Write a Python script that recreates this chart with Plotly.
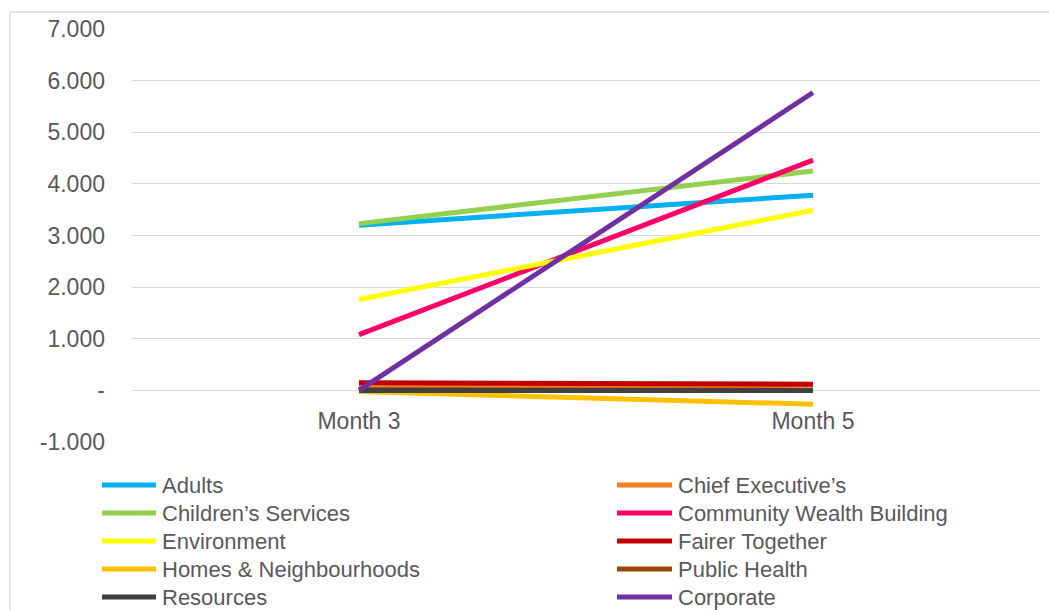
import plotly.graph_objects as go

# Forecast variance by directorate (£m), Month 3 vs Month 5
periods = ["Month 3", "Month 5"]

series_names = [
    "Adults", "Chief Executive’s",
    "Children’s Services", "Community Wealth Building",
    "Environment", "Fairer Together",
    "Homes & Neighbourhoods", "Public Health",
    "Resources", "Corporate",
]

adults = [3.20, 3.78]
chief_exec = [0.05, 0.10]
childrens = [3.23, 4.25]
community_wealth = [1.08, 4.46]
environment = [1.76, 3.49]
fairer_together = [0.15, 0.12]
homes = [-0.02, -0.27]
public_health = [0.01, 0.0]
resources = [0.0, 0.0]
corporate = [0.0, 5.77]

series_values = [
    adults, chief_exec, childrens, community_wealth, environment,
    fairer_together, homes, public_health, resources, corporate,
]

series_colors = [
    "#00B0F0", "#F47B20", "#92D050", "#FF0066", "#FFFF00",
    "#C00000", "#FFC000", "#974706", "#404040", "#7030A0",
]

y_ticks = [-1, 0, 1, 2, 3, 4, 5, 6, 7]
y_tick_labels = ["-1.000", "-", "1.000", "2.000", "3.000",
                 "4.000", "5.000", "6.000", "7.000"]

W, H = 1049, 610
# plot area in pixels
PL, PR, PT, PB = 132, 1040, 29, 442


def px_x(px):
    return (px - PL) / (PR - PL)


def px_y(py):
    return (PB - py) / (PB - PT)


TXT = "#595959"
FONT = "Liberation Sans, Arial, sans-serif"
LINE_W = 5

fig = go.Figure()
for name, vals, col in zip(series_names, series_values, series_colors):
    fig.add_trace(go.Scatter(
        x=periods, y=vals, mode="lines", name=name,
        line=dict(color=col, width=LINE_W), showlegend=False,
    ))

shapes = []
annotations = []

# outer chart border
shapes.append(dict(
    type="rect", xref="paper", yref="paper",
    x0=px_x(10), x1=px_x(1060), y0=px_y(640), y1=px_y(12),
    line=dict(color="#D9D9D9", width=1.3), fillcolor="rgba(0,0,0,0)",
    layer="below",
))

# legend, two columns
col_line_x = [(102, 156), (617, 672)]
col_text_x = [160, 676]
row_y0, row_dy = 485, 28
for i, (name, col) in enumerate(zip(series_names, series_colors)):
    c, r = i % 2, i // 2
    y = row_y0 + r * row_dy
    x0, x1 = col_line_x[c]
    shapes.append(dict(
        type="line", xref="paper", yref="paper",
        x0=px_x(x0), x1=px_x(x1), y0=px_y(y), y1=px_y(y),
        line=dict(color=col, width=LINE_W),
    ))
    annotations.append(dict(
        xref="paper", yref="paper", x=px_x(col_text_x[c]), y=px_y(y),
        text=name, showarrow=False, xanchor="left", yanchor="middle",
        font=dict(family=FONT, size=22, color=TXT),
    ))

fig.update_layout(
    width=W, height=H,
    margin=dict(l=PL, r=W - PR, t=PT, b=H - PB, pad=0),
    paper_bgcolor="white", plot_bgcolor="white",
    shapes=shapes, annotations=annotations,
    font=dict(family=FONT, color=TXT),
    xaxis=dict(
        type="category", range=[-0.5, 1.5],
        anchor="free", position=px_y(390),
        showgrid=False, showline=False, zeroline=False,
        ticks="", ticklabelstandoff=15,
        tickfont=dict(family=FONT, size=23, color=TXT),
    ),
    yaxis=dict(
        range=[-1, 7], tickvals=y_ticks, ticktext=y_tick_labels,
        showgrid=True, gridcolor="#D9D9D9", gridwidth=1.3,
        zeroline=False, showline=False, ticks="",
        ticklabelstandoff=26,
        tickfont=dict(family=FONT, size=23, color=TXT),
    ),
)

fig.write_html("out.html")
